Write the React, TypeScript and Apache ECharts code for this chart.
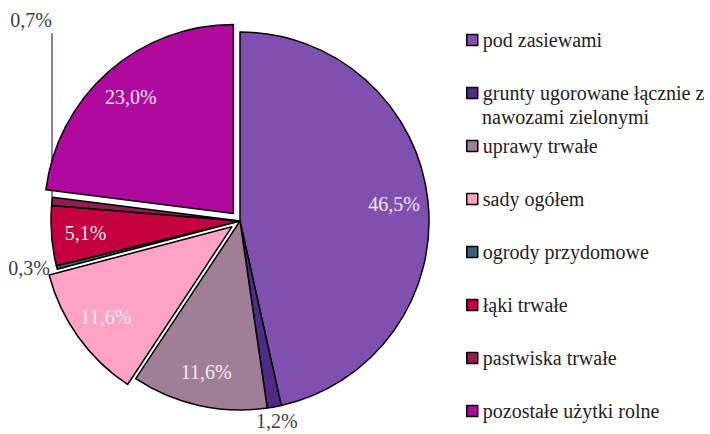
import React, { useEffect, useRef } from "react";
import * as echarts from "echarts";

const categories = [
  "pod zasiewami",
  "grunty ugorowane łącznie z nawozami zielonymi",
  "uprawy trwałe",
  "sady ogółem",
  "ogrody przydomowe",
  "łąki trwałe",
  "pastwiska trwałe",
  "pozostałe użytki rolne",
];
const legendLine1 = "grunty ugorowane łącznie z";
const legendLine2 = "nawozami zielonymi";
const values = [46.5, 1.2, 11.6, 11.6, 0.3, 5.1, 0.7, 23.0];
const colors = ["#8050B1", "#4E2C84", "#A07F96", "#FFA3C5", "#3F5E74", "#C40041", "#8C1F4C", "#B0099E"];
const exploded = [false, false, false, true, false, false, false, true];
const insideLabel = [true, false, true, true, false, true, false, true];

const FONT = "Liberation Serif";
const fmt = (v: number) => v.toFixed(1).replace(".", ",") + "%";

export default function App() {
  const ref = useRef<HTMLDivElement>(null);
  useEffect(() => {
    document.body.style.margin = "0";
    if (!ref.current) return;
    const chart = echarts.init(ref.current, undefined, { renderer: "svg" });

    const mainData = categories.map((name, i) => {
      const small = !insideLabel[i];
      let labelCfg: any = { show: false };
      let lineCfg: any = { show: false };
      if (small) {
        labelCfg = { show: true, position: "outside", distanceToLabelLine: i === 1 ? 0 : 5 };
        if (i === 1) lineCfg = { show: false, length: 14, length2: 0 };
        if (i === 4) lineCfg = { show: false, length: 2, length2: 0 };
        if (i === 6)
          lineCfg = { show: true, length: 10, length2: 5, lineStyle: { color: "#6E4FA6", width: 1.5 } };
      }
      return {
        name,
        value: values[i],
        selected: exploded[i],
        itemStyle: { color: colors[i] },
        label: labelCfg,
        labelLine: lineCfg,
      };
    });

    const overlayData = categories.map((name, i) => ({
      name,
      value: values[i],
      selected: exploded[i],
      label: { show: insideLabel[i] },
    }));

    chart.setOption({
      animation: false,
      textStyle: { fontFamily: FONT },
      legend: {
        orient: "vertical",
        left: 466,
        top: 30,
        padding: 0,
        itemWidth: 11,
        itemHeight: 11,
        itemGap: 33,
        icon: "rect",
        selectedMode: false,
        data: categories,
        itemStyle: { borderColor: "#000", borderWidth: 1.5 },
        formatter: (name: string) => (name === categories[1] ? legendLine1 : name),
        textStyle: {
          fontFamily: FONT,
          fontSize: 20,
          color: "#222222",
          lineHeight: 20,
        },
      },
      graphic: [
        {
          type: "text",
          left: 482,
          top: 107,
          silent: true,
          style: {
            text: legendLine2,
            fontFamily: FONT,
            fontSize: 20,
            fill: "#222222",
          },
        },
      ],
      series: [
        {
          type: "pie",
          center: [240, 221],
          radius: [0, 189],
          startAngle: 90,
          clockwise: true,
          selectedMode: "multiple",
          selectedOffset: 10,
          avoidLabelOverlap: false,
          emphasis: { disabled: true },
          select: { itemStyle: { borderColor: "#000", borderWidth: 1.5 } },
          itemStyle: { borderColor: "#000", borderWidth: 1.5 },
          label: {
            fontFamily: FONT,
            fontSize: 20,
            color: "#404040",
            formatter: (p: any) => fmt(p.value),
          },
          labelLayout: (params: any) => {
            if (params.dataIndex === 6 && params.labelLinePoints) {
              const p0 = params.labelLinePoints[0];
              return {
                x: p0[0] - 21,
                y: 20,
                align: "center",
                verticalAlign: "middle",
                labelLinePoints: [p0, [p0[0], 33], [p0[0], 33]],
              };
            }
            if (params.dataIndex === 1) {
              return { align: "center", verticalAlign: "middle" };
            }
            return {};
          },
          data: mainData,
        },
        {
          type: "pie",
          center: [240, 221],
          radius: [115, 189],
          startAngle: 90,
          clockwise: true,
          silent: true,
          selectedMode: "multiple",
          selectedOffset: 10,
          avoidLabelOverlap: false,
          emphasis: { disabled: true },
          itemStyle: { color: "rgba(0,0,0,0)", borderWidth: 0 },
          select: { itemStyle: { color: "rgba(0,0,0,0)", borderWidth: 0 } },
          labelLine: { show: false },
          label: {
            position: "inside",
            fontFamily: FONT,
            fontSize: 20,
            color: "#F3EAF3",
            formatter: (p: any) => fmt(p.value),
          },
          data: overlayData,
        },
      ],
    });
    return () => chart.dispose();
  }, []);
  return <div ref={ref} style={{ width: 710, height: 434 }} />;
}
